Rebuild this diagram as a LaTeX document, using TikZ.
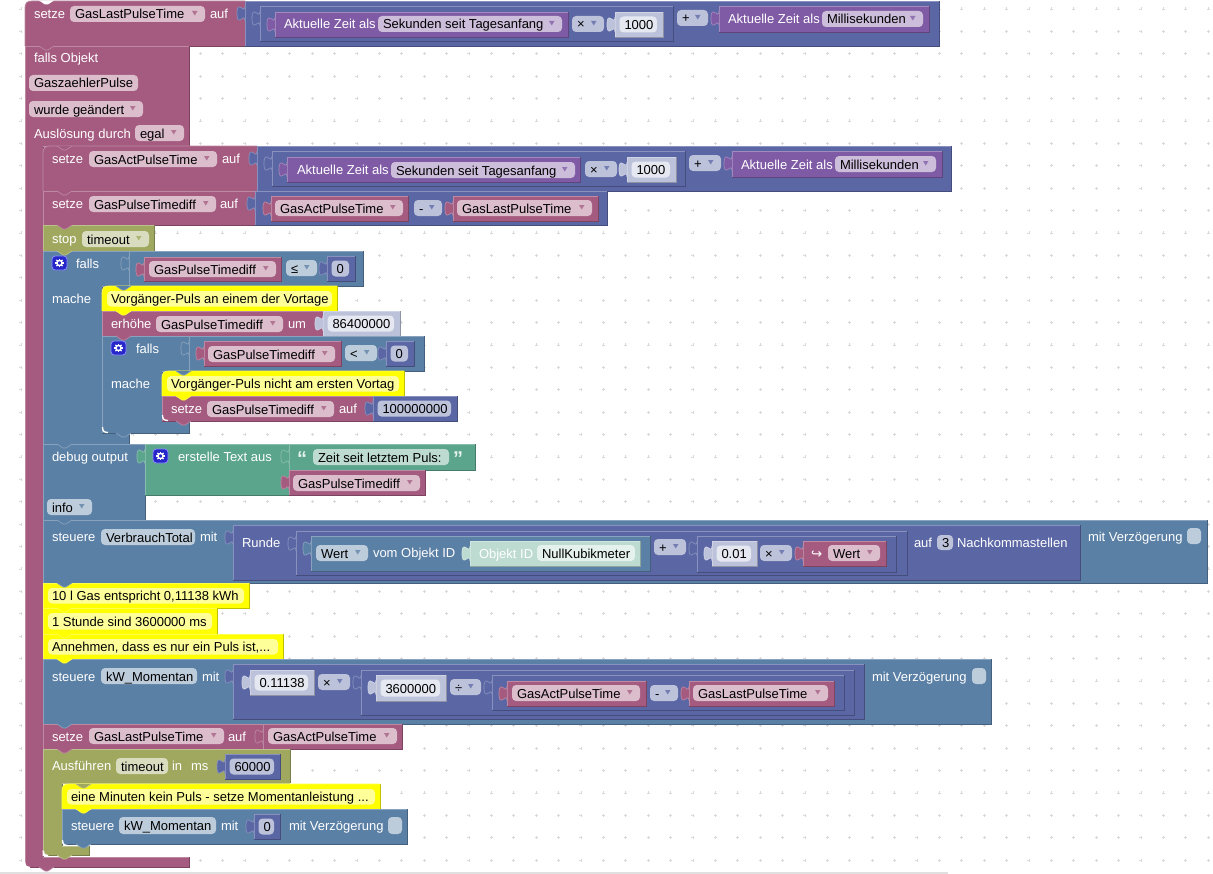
\documentclass[tikz,border=0pt]{standalone}
\usepackage{fontspec}
\setmainfont{Liberation Sans}
\newfontfamily\dvfont{DejaVu Sans}
\definecolor{pk}{HTML}{A55B80}
\definecolor{bl}{HTML}{5B80A5}
\definecolor{idg}{HTML}{5B67A5}
\definecolor{pu}{HTML}{805BA5}
\definecolor{gr}{HTML}{5BA58C}
\definecolor{ol}{HTML}{A0A85F}
\definecolor{ye}{HTML}{FFFF00}
\definecolor{yf}{HTML}{FFFF99}
\colorlet{nl}{idg!40!white}
\colorlet{gl}{gr!40!white}
\newcounter{nn}
\tikzset{
  txt/.style={inner sep=0pt,outer sep=0pt,anchor=base west,font=\fontsize{9.75}{11}\selectfont},
  edgeline/.style={line width=0.6pt},
}
% plain block
\newcommand{\bRec}[5]{%
  \fill[#5] (#1,#2) rectangle (#3,#4);
  \draw[edgeline,#5!75!black] (#3,#2) -- (#3,#4) -- (#1,#4);
  \draw[edgeline,#5!72!white] (#1,#4) -- (#1,#2) -- (#3,#2);
}
% block with rounded top-left corner
\newcommand{\bRecR}[5]{%
  \fill[#5] (#1,#4) -- ({#1},{#2+7}) .. controls ({#1},{#2+2}) and ({#1+2},{#2}) .. ({#1+7},{#2}) -- (#3,#2) -- (#3,#4) -- cycle;
  \draw[edgeline,#5!75!black] (#3,#2) -- (#3,#4) -- (#1,#4);
  \draw[edgeline,#5!72!white] (#1,#4) -- ({#1},{#2+7}) .. controls ({#1},{#2+2}) and ({#1+2},{#2}) .. ({#1+7},{#2}) -- (#3,#2);
}
% value block with puzzle tab on the left
\newcommand{\bVal}[5]{%
  \bRec{#1}{#2}{#3}{#4}{#5}
  \filldraw[fill=#5,draw=#5!72!white,line width=0.5pt] ({#1},{#2+5}) .. controls ({#1},{#2+15}) and ({#1-8},{#2-3}) .. ({#1-8},{#2+12.5}) .. controls ({#1-8},{#2+28}) and ({#1},{#2+10}) .. ({#1},{#2+20});
}
% C-shaped statement block
\newcommand{\bCee}[9]{%
  \fill[#1] (#2,#3) -- (#4,#3) -- (#4,#5) -- (#6,#5) -- (#6,#7) -- (#8,#7) -- (#8,#9) -- (#2,#9) -- cycle;
  \draw[edgeline,#1!75!black] (#4,#3) -- (#4,#5) (#6,#5) -- (#6,#7) (#8,#7) -- (#8,#9) -- (#2,#9);
  \draw[edgeline,#1!72!white] (#2,#9) -- (#2,#3) -- (#4,#3) (#4,#5) -- (#6,#5) (#6,#7) -- (#8,#7);
}
% connection notch
\newcommand{\bBump}[3]{%
  \filldraw[fill=#3,draw=#3!72!white,line width=0.5pt] ({#1+14},{#2}) -- ({#1+20},{#2+4}) -- ({#1+23},{#2+4}) -- ({#1+29},{#2});
}
% light inner corner
\newcommand{\bCorner}[2]{%
  \draw[white,line width=1pt] ({#1+0.5},{#2-6}) .. controls ({#1+0.5},{#2-2}) and ({#1+2},{#2-0.5}) .. ({#1+6},{#2-0.5});
}
% white cut of an outer corner
\newcommand{\bCut}[2]{%
  \fill[white] ({#1-0.5},{#2-5}) -- ({#1-0.5},{#2+1}) -- ({#1+5},{#2+1}) -- ({#1+5},{#2}) .. controls ({#1+2},{#2}) and ({#1},{#2-2}) .. ({#1},{#2-5}) -- cycle;
}
\newcommand{\bWt}[3]{\stepcounter{nn}\node[txt,white] (t\arabic{nn}) at ({#1},{#2+5}) {#3};}
\newcommand{\bBk}[3]{\stepcounter{nn}\node[txt,black] (t\arabic{nn}) at ({#1},{#2+5}) {#3};}
% field without caret
\newcommand{\bFldn}[6]{%
  \fill[#5!40!white,rounded corners=3pt] (#1,#2) rectangle (#3,#4);
  \bBk{#1+5}{(#2+#4)/2}{#6}
}
% field with caret
\newcommand{\bFld}[6]{%
  \bFldn{#1}{#2}{#3}{#4}{#5}{#6}
  \fill[#5!85!white] ({#3-13},{(#2+#4)/2-3}) -- ({#3-7.5},{(#2+#4)/2-3}) -- ({#3-10.25},{(#2+#4)/2+1.5}) -- cycle;
}
% number block
\newcommand{\bNum}[6]{%
  \bVal{#1}{#2}{#3}{#4}{#5}
  \bFldn{#1+4.5}{#2+4.5}{#3-6}{#4-4.5}{#5}{#6}
}
% comment
\newcommand{\bCom}[6]{%
  #1{#2}{#3}{#4}{#5}{ye}
  \fill[yf,rounded corners=3pt] ({#2+5},{#3+5}) rectangle ({#4-5},{#5-4.5});
  \bBk{#2+9}{(#3+#5)/2}{#6}
}
% mutator icon
\newcommand{\bGear}[2]{%
  \filldraw[fill=blue!75!black!85!white,draw=blue!45!white,line width=0.6pt,rounded corners=2.5pt] (#1,#2) rectangle ({#1+15},{#2+14});
  \draw[white,line width=1.1pt] ({#1+7.5},{#2+7}) circle (2.6);
  \foreach \a in {0,45,...,315}{\draw[white,line width=1pt] ({#1+7.5+2.8*cos(\a)},{#2+7+2.8*sin(\a)}) -- ({#1+7.5+4.4*cos(\a)},{#2+7+4.4*sin(\a)});}
}
\begin{document}
\begin{tikzpicture}[x=0.75pt,y=-0.75pt]
\useasboundingbox (0,0) rectangle (1213,874);
\fill[white] (0,0) rectangle (1213,874);
% grid
\draw[black!15,line width=0.4pt]
  \foreach \i in {0,...,53}{\foreach \j in {0,...,38}{
    ({20.8+22.4*\i-1.5},{8.9+22.4*\j}) -- ({20.8+22.4*\i+1.5},{8.9+22.4*\j})
    ({20.8+22.4*\i},{8.9+22.4*\j-1.5}) -- ({20.8+22.4*\i},{8.9+22.4*\j+1.5})
  }};
\draw[black!12,line width=0.8pt] (0,873) -- (948,873);

% ---------- first block
\bRecR{25}{1}{245}{46}{pk}
\fill[white] (39,0.5) -- (45,4.5) -- (48,4.5) -- (54,0.5) -- cycle;
\bWt{34}{14}{setze}
\bFld{70}{6}{205}{22}{pk}{GasLastPulseTime}
\bWt{210}{14}{auf}
\bVal{245}{1}{939}{46}{idg}
\bVal{260}{6}{673}{41}{idg}
\bVal{275}{12}{568}{37}{pu}
\bWt{284}{24}{Aktuelle Zeit als}
\bFld{378}{16}{562}{32}{pu}{Sekunden seit Tagesanfang}
\bFld{572}{16}{604}{32}{idg}{×}
\bNum{615}{12}{663}{37}{nl}{1000}
\bFld{677}{10}{708}{26}{idg}{+}
\bVal{719}{6}{929}{32}{pu}
\bWt{728}{19}{Aktuelle Zeit als}
\bFld{822}{11}{923}{27}{pu}{Millisekunden}

% ---------- trigger block
\bCee{pk}{25}{46}{189}{146}{43}{857}{189}{867}
\bCut{25}{867}
\bBump{25}{46}{pk}
\bWt{34}{58}{falls Objekt}
\bFldn{29}{75}{138}{91}{pk}{GaszaehlerPulse}
\bFld{29}{101}{143}{117}{pk}{wurde geändert}
\bWt{34}{133}{Auslösung durch}
\bFld{135}{125}{184}{141}{pk}{egal}

% ---------- setze GasActPulseTime
\bRecR{43}{146}{257}{191}{pk}
\bBump{43}{146}{pk}
\bWt{52}{158}{setze}
\bFld{89}{151}{217}{167}{pk}{GasActPulseTime}
\bWt{222}{158}{auf}
\bVal{257}{146}{951}{191}{idg}
\bVal{272}{151}{685}{186}{idg}
\bVal{287}{157}{580}{182}{pu}
\bWt{297}{169}{Aktuelle Zeit als}
\bFld{391}{162}{575}{178}{pu}{Sekunden seit Tagesanfang}
\bFld{585}{161}{617}{177}{idg}{×}
\bNum{627}{157}{676}{182}{nl}{1000}
\bFld{689}{155}{721}{171}{idg}{+}
\bVal{732}{151}{942}{177}{pu}
\bWt{741}{164}{Aktuelle Zeit als}
\bFld{835}{156}{936}{172}{pu}{Millisekunden}

% ---------- setze GasPulseTimediff
\bRec{43}{191}{255}{225}{pk}
\bBump{43}{191}{pk}
\bWt{52}{203}{setze}
\bFld{89}{196}{216}{212}{pk}{GasPulseTimediff}
\bWt{220}{203}{auf}
\bVal{255}{191}{607}{225}{idg}
\bVal{271}{196}{408}{221}{pk}
\bFld{275}{200}{403}{216}{pk}{GasActPulseTime}
\bFld{414}{200}{442}{216}{idg}{-}
\bVal{453}{196}{598}{221}{pk}
\bFld{457}{200}{592}{216}{pk}{GasLastPulseTime}

% ---------- stop
\bRec{43}{225}{154}{251}{ol}
\bBump{43}{225}{pk}
\bWt{52}{238}{stop}
\bFld{82}{231}{149}{247}{ol}{timeout}

% ---------- falls 1
\bCee{bl}{43}{251}{129}{286}{102}{433}{129}{444}
\bBump{43}{251}{ol}
\bGear{52}{256}
\bWt{76}{263}{falls}
\bWt{52}{298}{mache}
\bVal{129}{251}{363}{286}{bl}
\bVal{144}{257}{281}{281}{pk}
\bFld{149}{261}{276}{277}{pk}{GasPulseTimediff}
\bFld{286}{260}{317}{276}{bl}{≤}
\bNum{327}{256}{355}{281}{idg}{0}

\bCom{\bRecR}{102}{286}{337}{311}{Vorgänger-Puls an einem der Vortage}
\bBump{102}{286}{bl}
\bRec{102}{311}{323}{336}{pk}
\bBump{102}{311}{ye}
\bWt{111}{323}{erhöhe}
\bFld{156}{316}{283}{332}{pk}{GasPulseTimediff}
\bWt{288}{323}{um}
\bNum{323}{311}{400}{336}{nl}{86400000}

% ---------- falls 2
\bCee{bl}{102}{336}{189}{371}{162}{420}{189}{433}
\bBump{102}{336}{pk}
\bGear{111}{341}
\bWt{136}{348}{falls}
\bWt{111}{383}{mache}
\bVal{189}{336}{424}{371}{bl}
\bVal{204}{341}{341}{366}{pk}
\bFld{208}{346}{335}{362}{pk}{GasPulseTimediff}
\bFld{345}{345}{377}{361}{bl}{<}
\bNum{386}{341}{414}{366}{idg}{0}
\bCom{\bRecR}{162}{371}{404}{396}{Vorgänger-Puls nicht am ersten Vortag}
\bBump{162}{371}{bl}
\bRec{162}{396}{373}{421}{pk}
\bBump{162}{396}{ye}
\bWt{171}{408}{setze}
\bFld{207}{401}{334}{417}{pk}{GasPulseTimediff}
\bWt{339}{408}{auf}
\bNum{373}{396}{457}{421}{idg}{100000000}
\bBump{162}{421}{pk}
\bCorner{162}{421}
\bBump{102}{433}{bl}
\bCorner{102}{433}

% ---------- debug
\bRec{43}{444}{145}{520}{bl}
\bBump{43}{444}{bl}
\bWt{52}{456}{debug output}
\bFld{47}{499}{92}{515}{bl}{info}
\bVal{145}{444}{289}{495}{gr}
\bGear{153}{449}
\bWt{178}{456}{erstelle Text aus}
\bVal{289}{444}{475}{470}{gr}
\stepcounter{nn}\node[txt,white!85!gr,font=\fontsize{15}{15}\selectfont\bfseries] (q1) at (297,465) {“};
\bFldn{313}{449}{449}{465}{gr}{Zeit seit letztem Puls:}
\stepcounter{nn}\node[txt,white!85!gr,font=\fontsize{15}{15}\selectfont\bfseries] (q2) at (453,465) {”};
\bVal{289}{470}{425}{495}{pk}
\bFld{293}{475}{420}{491}{pk}{GasPulseTimediff}

% ---------- steuere VerbrauchTotal
\bRec{43}{520}{1207}{583}{bl}
\bBump{43}{520}{bl}
\bWt{52}{536}{steuere}
\bFldn{101}{529}{195}{545}{bl}{VerbrauchTotal}
\bWt{200}{536}{mit}
\bVal{233}{525}{1080}{580}{idg}
\bWt{242}{542}{Runde}
\bVal{296}{531}{907}{575}{idg}
\bVal{311}{536}{650}{571}{bl}
\bFld{316}{545}{368}{561}{bl}{Wert}
\bWt{373}{552}{vom Objekt ID}
\bVal{470}{541}{640}{566}{gl}
\bWt{479}{553}{Objekt ID}
\bFldn{537}{545}{635}{561}{gl}{NullKubikmeter}
\bFld{654}{539}{686}{555}{idg}{+}
\bVal{697}{536}{896}{572}{idg}
\bNum{712}{541}{757}{566}{nl}{0.01}
\bFld{760}{545}{792}{561}{idg}{×}
\bVal{803}{541}{886}{566}{pk}
\stepcounter{nn}\node[txt,white,font=\fontsize{10}{11}\dvfont] (ar) at (811,558) {↪};
\bFld{828}{545}{880}{561}{pk}{Wert}
\bWt{914}{542}{auf}
\bFldn{937}{535}{953}{550}{idg}{3}
\bWt{957}{542}{Nachkommastellen}
\bWt{1088}{536}{mit Verzögerung}
\fill[bl!40!white,rounded corners=3pt] (1187,528) rectangle (1201,544);

% ---------- comments
\bCom{\bRec}{43}{583}{249}{608}{10 l Gas entspricht 0,11138 kWh}
\bBump{43}{583}{bl}
\bCom{\bRec}{43}{608}{217}{634}{1 Stunde sind 3600000 ms}
\bBump{43}{608}{ye}
\bCom{\bRec}{43}{634}{283}{659}{Annehmen, dass es nur ein Puls ist,...}
\bBump{43}{634}{ye}

% ---------- steuere kW_Momentan
\bRec{43}{659}{991}{724}{bl}
\bBump{43}{659}{ye}
\bWt{52}{676}{steuere}
\bFldn{101}{668}{197}{684}{bl}{kW\_Momentan}
\bWt{202}{676}{mit}
\bVal{233}{664}{864}{719}{idg}
\bNum{250}{670}{314}{695}{nl}{0.11138}
\bFld{318}{674}{350}{690}{idg}{×}
\bVal{361}{670}{854}{715}{idg}
\bNum{376}{675}{446}{701}{nl}{3600000}
\bFld{450}{679}{481}{695}{idg}{÷}
\bVal{492}{675}{844}{710}{idg}
\bVal{507}{681}{646}{706}{pk}
\bFld{512}{685}{640}{701}{pk}{GasActPulseTime}
\bFld{650}{685}{678}{701}{idg}{-}
\bVal{689}{681}{834}{706}{pk}
\bFld{693}{685}{828}{701}{pk}{GasLastPulseTime}
\bWt{872}{676}{mit Verzögerung}
\fill[bl!40!white,rounded corners=3pt] (972,668) rectangle (986,684);

% ---------- setze GasLastPulseTime
\bRec{43}{724}{263}{749}{pk}
\bBump{43}{724}{bl}
\bWt{52}{736}{setze}
\bFld{89}{728}{224}{744}{pk}{GasLastPulseTime}
\bWt{228}{736}{auf}
\bVal{263}{724}{402}{749}{pk}
\bFld{268}{728}{397}{744}{pk}{GasActPulseTime}

% ---------- Ausfuehren
\bCee{ol}{43}{749}{290}{783}{62}{846}{89}{855}
\bBump{43}{749}{pk}
\bCut{43}{855}
\bWt{52}{765}{Ausführen}
\bFldn{116}{758}{168}{774}{ol}{timeout}
\bWt{172}{765}{in}
\bWt{191}{765}{ms}
\bNum{225}{754}{280}{779}{idg}{60000}
\bCom{\bRecR}{62}{784}{380}{809}{eine Minuten kein Puls - setze Momentanleistung ...}
\bBump{62}{784}{ol}
\bRec{62}{809}{407}{844}{bl}
\bBump{62}{809}{ye}
\bWt{71}{825}{steuere}
\bFldn{119}{817}{216}{834}{bl}{kW\_Momentan}
\bWt{221}{825}{mit}
\bNum{254}{814}{280}{839}{idg}{0}
\bWt{289}{825}{mit Verzögerung}
\fill[bl!40!white,rounded corners=3pt] (388,817) rectangle (402,834);
\bBump{62}{844}{bl}
\bCorner{62}{846}
\bBump{43}{855}{ol}
\bCorner{43}{857}
\bBump{25}{867}{pk}
\end{tikzpicture}
\end{document}
